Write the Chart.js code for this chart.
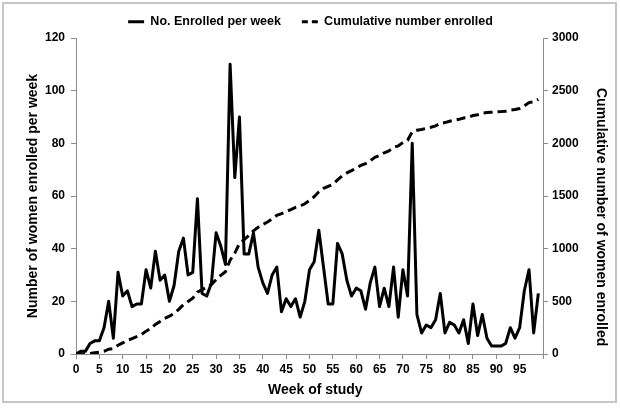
<!DOCTYPE html>
<html>
<head>
<meta charset="utf-8">
<script src="https://cdn.jsdelivr.net/npm/chart.js@4.4.0/dist/chart.umd.min.js"></script>
<style>
  body { margin: 0; background: #fff; }
  #wrap { position: relative; width: 621px; height: 412px; }
  #frame { position: absolute; left: 2px; top: 2px; width: 615px; height: 401px; box-sizing: border-box; border: 2px solid #c6c6c6; pointer-events: none; }
</style>
</head>
<body>
<div id="wrap">
  <canvas id="grafica" width="621" height="412"></canvas>
  <div id="frame"></div>
</div>
<script>
/// datos ///

// semana 0 .. 99
const semanas = Array.from({ length: 100 }, (_, i) => i);

// mujeres enroladas por semana
const porSemana = [
  0, 1, 1, 4, 5, 5, 10, 20, 6, 31,
  22, 24, 18, 19, 19, 32, 25, 39, 28, 30,
  20, 26, 39, 44, 30, 31, 59, 23, 22, 27,
  46, 41, 34, 110, 67, 90, 38, 38, 46, 33,
  27, 23, 30, 33, 16, 21, 18, 21, 14, 20,
  32, 35, 47, 33, 19, 19, 42, 38, 28, 22,
  25, 24, 17, 27, 33, 18, 25, 18, 33, 14,
  32, 22, 80, 15, 8, 11, 10, 13, 23, 8,
  12, 11, 8, 13, 4, 19, 7, 15, 6, 3,
  3, 3, 4, 10, 6, 10, 24, 32, 8, 23
];

// numero acumulado (linea punteada, eje derecho)
const acumulado = [
  0, 1, 2, 6, 11, 16, 26, 46, 52, 83,
  105, 129, 147, 166, 185, 217, 242, 281, 309, 339,
  359, 385, 424, 468, 498, 529, 588, 611, 633, 660,
  706, 747, 781, 891, 958, 1048, 1086, 1124, 1170, 1203,
  1230, 1253, 1283, 1316, 1332, 1353, 1371, 1392, 1406, 1426,
  1458, 1493, 1540, 1573, 1592, 1611, 1653, 1691, 1719, 1741,
  1766, 1790, 1807, 1834, 1867, 1885, 1910, 1928, 1961, 1975,
  2007, 2029, 2109, 2124, 2132, 2143, 2153, 2166, 2189, 2197,
  2209, 2220, 2228, 2241, 2245, 2264, 2271, 2286, 2292, 2295,
  2298, 2301, 2305, 2315, 2321, 2331, 2355, 2387, 2395, 2418
];

const etiquetas = ["No. Enrolled per week    ", "Cumulative number enrolled"];
const tituloX = "   Week of study";
const tituloIzq = "Number of women enrolled per week";
const tituloDer = "Cumulative number of women enrolled  ";

//////////////

Chart.defaults.font.family = "'Liberation Sans', Arial, sans-serif";
Chart.defaults.font.weight = "bold";
Chart.defaults.font.size = 12;
Chart.defaults.color = "#000";

const gris = "#8c8c8c";

function ejeBase() {
  return {
    grid: { display: true, drawOnChartArea: false, drawTicks: true, tickLength: 5, color: gris },
    border: { display: true, color: gris, width: 1 }
  };
}

// la leyenda con punto 'line' pierde el guion, se lo devolvemos
function leyenda(chart) {
  const items = Chart.defaults.plugins.legend.labels.generateLabels(chart);
  items.forEach((it, i) => {
    it.lineWidth = 3;
    it.strokeStyle = "#000";
    it.lineDash = chart.data.datasets[i].borderDash ? [6, 4] : [];
  });
  return items;
}

const config = {
  type: "line",
  data: {
    datasets: [
      {
        label: etiquetas[0],
        data: semanas.map((s, i) => ({ x: s, y: porSemana[i] })),
        borderColor: "#000",
        backgroundColor: "#000",
        borderWidth: 3,
        borderJoinStyle: "round",
        pointRadius: 0,
        tension: 0,
        yAxisID: "y"
      },
      {
        label: etiquetas[1],
        data: semanas.map((s, i) => ({ x: s, y: acumulado[i] })),
        borderColor: "#000",
        backgroundColor: "#000",
        borderWidth: 3,
        borderDash: [9, 5],
        pointRadius: 0,
        tension: 0,
        yAxisID: "y1"
      }
    ]
  },
  options: {
    responsive: false,
    animation: false,
    devicePixelRatio: 1,
    layout: { padding: 0 },
    plugins: {
      tooltip: { enabled: false },
      legend: {
        position: "top",
        labels: {
          usePointStyle: true,
          pointStyle: "line",
          pointStyleWidth: 16,
          padding: 7,
          color: "#000",
          font: { size: 12.5, weight: "bold" },
          generateLabels: leyenda
        }
      }
    },
    scales: {
      x: Object.assign(ejeBase(), {
        type: "linear",
        min: 0,
        max: 100,
        ticks: {
          stepSize: 5,
          padding: 3,
          maxRotation: 0,
          autoSkip: false,
          callback: (v) => (v === 100 ? "" : String(v))
        },
        title: { display: true, text: tituloX, font: { size: 14, weight: "bold" }, padding: { top: 0, bottom: 13 } },
        afterFit: (eje) => { eje.height = 58; }
      }),
      y: Object.assign(ejeBase(), {
        position: "left",
        min: 0,
        max: 120,
        ticks: { stepSize: 20, padding: 6, callback: (v) => String(v) },
        title: { display: true, text: tituloIzq, font: { size: 14, weight: "bold" }, padding: { top: 25, bottom: 0 } },
        afterFit: (eje) => { eje.width = 76; eje.paddingTop = 38; }
      }),
      y1: Object.assign(ejeBase(), {
        position: "right",
        min: 0,
        max: 3000,
        ticks: { stepSize: 500, padding: 4, callback: (v) => String(v) },
        title: { display: true, text: tituloDer, align: "start", font: { size: 14, weight: "bold" }, padding: { top: 12, bottom: 0 } },
        afterFit: (eje) => { eje.width = 78; }
      })
    }
  }
};

const chartDOM = document.getElementById("grafica");
new Chart(chartDOM, config);
</script>
</body>
</html>
